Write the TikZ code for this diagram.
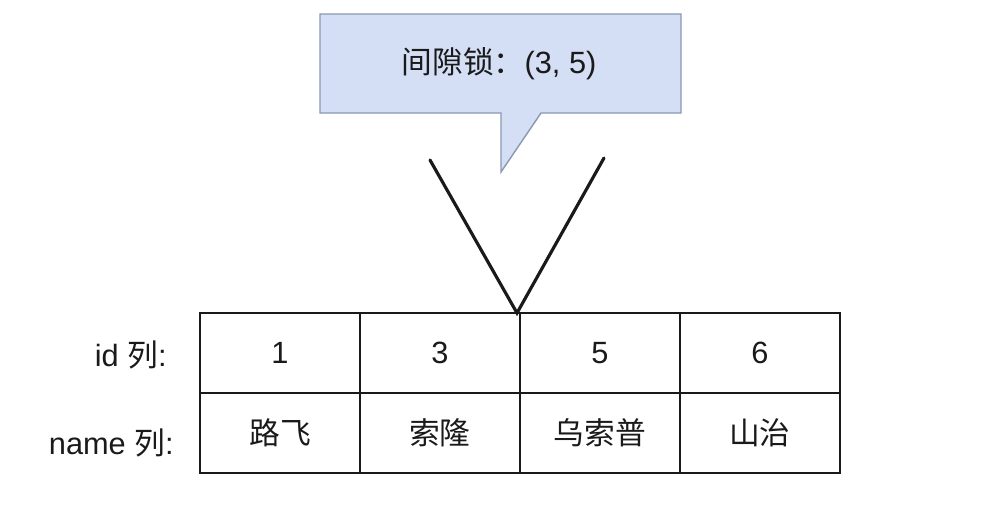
\documentclass[tikz,border=0pt]{standalone}
\usepackage{fontspec}
\setmainfont{Liberation Sans}
\newfontfamily\cjk{Noto Sans CJK SC}
\usepackage{tikz}
\usetikzlibrary{positioning}
\definecolor{tipfill}{HTML}{D4DFF6}
\definecolor{tipline}{HTML}{8A98B2}
\definecolor{ink}{HTML}{1A1A1A}
\tikzset{
  cell/.style={draw=ink, line width=1.1pt, minimum width=3.2cm, minimum height=1.6cm,
    inner sep=0pt, outer sep=0pt, text=ink, font=\fontsize{17.5}{21}\selectfont},
  rowlab/.style={anchor=east, inner sep=0pt, text=ink, font=\fontsize{17.5}{21}\selectfont},
  tip/.style={fill=tipfill, draw=tipline, line width=0.8pt, line join=miter},
  gapline/.style={draw=ink, line width=1.8pt, line cap=round, line join=miter},
}

\begin{document}
\begin{tikzpicture}[x=0.02cm, y=-0.02cm]
  \useasboundingbox (0,0) rectangle (994,512);

  % callout
  \draw[tip] (320,14) -- (681,14) -- (681,113) -- (541,113) -- (501,172)
    -- (501,113) -- (320,113) -- cycle;
  \node[text=ink, font=\fontsize{17.5}{21}\selectfont] (locklab) at (499,64) {{\cjk 间隙锁：}(3, 5)};

  % table
  \node[cell] (c1) at (280,353) {1};
  \node[cell, right=0pt of c1] (c2) {3};
  \node[cell, right=0pt of c2] (c3) {5};
  \node[cell, right=0pt of c3] (c4) {6};
  \node[cell, below=0pt of c1] (n1) {\cjk 路飞};
  \node[cell, below=0pt of c2] (n2) {\cjk 索隆};
  \node[cell, below=0pt of c3] (n3) {\cjk 乌索普};
  \node[cell, below=0pt of c4] (n4) {\cjk 山治};

  \node[rowlab] (idlab) at (167,355) {id {\cjk 列}:};
  \node[rowlab] (namelab) at (174,443) {name {\cjk 列}:};

  % gap marker
  \coordinate (gap) at (517,313);
  \coordinate (vl) at (430,160);
  \coordinate (vr) at (604,158);
  \draw[gapline] (vl) -- (gap) -- (vr);
\end{tikzpicture}
\end{document}
